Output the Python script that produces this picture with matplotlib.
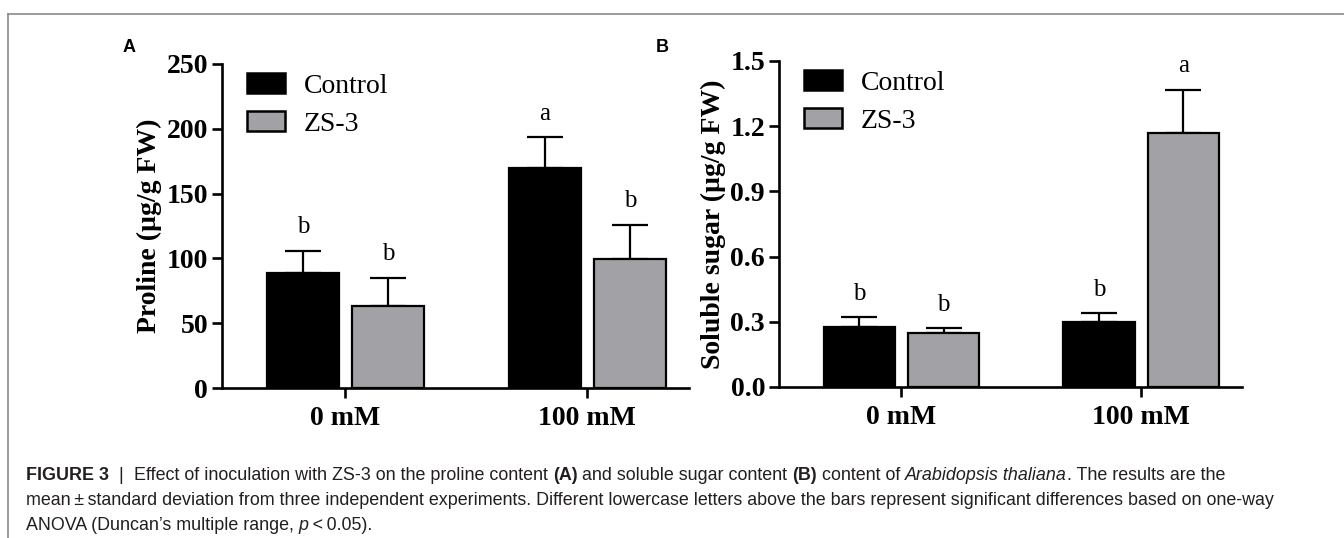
import numpy as np
import matplotlib
matplotlib.use("Agg")
import matplotlib.pyplot as plt
from matplotlib.lines import Line2D

# data
groups = ["0 mM", "100 mM"]
series = ["Control", "ZS-3"]
proline_ctrl = [89, 170]
proline_zs3 = [63, 99.5]
proline_ctrl_sd = [17, 23.5]
proline_zs3_sd = [22, 26.5]
proline_ctrl_let = ["b", "a"]
proline_zs3_let = ["b", "b"]

sugar_ctrl = [0.275, 0.30]
sugar_zs3 = [0.25, 1.17]
sugar_ctrl_sd = [0.046, 0.04]
sugar_zs3_sd = [0.02, 0.197]
sugar_ctrl_let = ["b", "b"]
sugar_zs3_let = ["b", "a"]

serif = "Liberation Serif"
black = "#000000"
grey = "#a2a2a6"

fig = plt.figure(figsize=(13.44, 5.38), dpi=100)
W, H = 1344, 538


def panel(rect, ctrl, zs3, csd, zsd, clet, zlet, ylim, yticks, ylabel, fmt, leg_y):
    ax = fig.add_axes(rect)
    x = np.arange(len(groups))
    w = 0.297
    off = 0.176
    for xs, vals, sd, lets, col, lab in [
        (x - off, ctrl, csd, clet, black, series[0]),
        (x + off, zs3, zsd, zlet, grey, series[1]),
    ]:
        ax.bar(xs, vals, w, color=col, edgecolor="black", linewidth=1.6, label=lab, zorder=3)
        ax.errorbar(xs, vals, yerr=[np.zeros(len(vals)), sd], fmt="none", ecolor="black",
                    elinewidth=1.6, capsize=13, capthick=1.6, zorder=2)
        for xi, v, s, l in zip(xs, vals, sd, lets):
            ax.annotate(l, (xi, v + s), xytext=(0, 9), textcoords="offset points",
                        ha="center", va="bottom", fontsize=18, family=serif)
    ax.set_xlim(-0.51, 1.42)
    ax.set_ylim(*ylim)
    ax.set_yticks(yticks)
    ax.set_yticklabels([fmt % t for t in yticks])
    ax.set_xticks(x)
    ax.set_xticklabels(groups)
    for s in ["top", "right"]:
        ax.spines[s].set_visible(False)
    for s in ["left", "bottom"]:
        ax.spines[s].set_linewidth(1.9)
    ax.tick_params(width=1.9, length=7, direction="out", pad=3)
    for t in ax.get_xticklabels() + ax.get_yticklabels():
        t.set_family(serif)
        t.set_fontweight("bold")
        t.set_fontsize(20)
    ax.tick_params(axis="x", pad=6)
    ax.set_ylabel(ylabel, family=serif, fontweight="bold", fontsize=20, labelpad=3)
    leg = ax.legend(loc="upper left", bbox_to_anchor=(0.03, leg_y), frameon=False,
                    prop={"family": serif, "size": 20}, handlelength=1.35, handleheight=0.7,
                    handletextpad=0.7, labelspacing=0.45, borderaxespad=0)
    for p in leg.get_patches():
        p.set_linewidth(1.8)
    return ax


axA = panel([222 / W, 1 - 388 / H, 467 / W, 324 / H], proline_ctrl, proline_zs3,
            proline_ctrl_sd, proline_zs3_sd, proline_ctrl_let, proline_zs3_let,
            (0, 250), [0, 50, 100, 150, 200, 250], "Proline (µg/g FW)", "%d", 1.005)
axB = panel([779 / W, 1 - 387 / H, 463 / W, 326 / H], sugar_ctrl, sugar_zs3,
            sugar_ctrl_sd, sugar_zs3_sd, sugar_ctrl_let, sugar_zs3_let,
            (0, 1.5), [0.0, 0.3, 0.6, 0.9, 1.2, 1.5], "Soluble sugar (µg/g FW)", "%.1f", 1.005)

fig.text(123 / W, 1 - 47 / H, "A", fontsize=13, fontweight="bold", family="Liberation Sans",
         va="center")
fig.text(656 / W, 1 - 47 / H, "B", fontsize=13, fontweight="bold", family="Liberation Sans",
         va="center")

# frame lines
fig.add_artist(Line2D([8 / W, 1], [1 - 14 / H, 1 - 14 / H], color="#8a8a8a", lw=1.2))
fig.add_artist(Line2D([8 / W, 8 / W], [0, 1 - 14 / H], color="#8a8a8a", lw=1.2))

# caption, written run by run
cap_font = ["Liberation Sans", "DejaVu Sans"]
cap_size = 12.9
cap_col = "#231f20"
lines = [
    [("FIGURE 3", "bold", "normal"), ("  |  ", "normal", "normal"),
     ("Effect of inoculation with ZS-3 on the proline content ", "normal", "normal"),
     ("(A)", "bold", "normal"), (" and soluble sugar content ", "normal", "normal"),
     ("(B)", "bold", "normal"), (" content of ", "normal", "normal"),
     ("Arabidopsis thaliana", "normal", "italic"), (". The results are the", "normal", "normal")],
    [("mean\u2009±\u2009standard deviation from three independent experiments. Different lowercase letters "
      "above the bars represent significant differences based on one-way", "normal", "normal")],
    [("ANOVA (Duncan\u2019s multiple range, ", "normal", "normal"), ("p", "normal", "italic"),
     ("\u2009<\u20090.05).", "normal", "normal")],
]
line_y = [480, 505, 530]
fig.canvas.draw()
r = fig.canvas.get_renderer()
for runs, yy in zip(lines, line_y):
    xp = 26
    for txt, wt, st in runs:
        t = fig.text(xp / W, 1 - yy / H, txt, fontsize=cap_size, fontweight=wt, fontstyle=st,
                     family=cap_font, color=cap_col, va="baseline", ha="left")
        bb = t.get_window_extent(r)
        xp += bb.width

fig.savefig("out.png", dpi=100)
